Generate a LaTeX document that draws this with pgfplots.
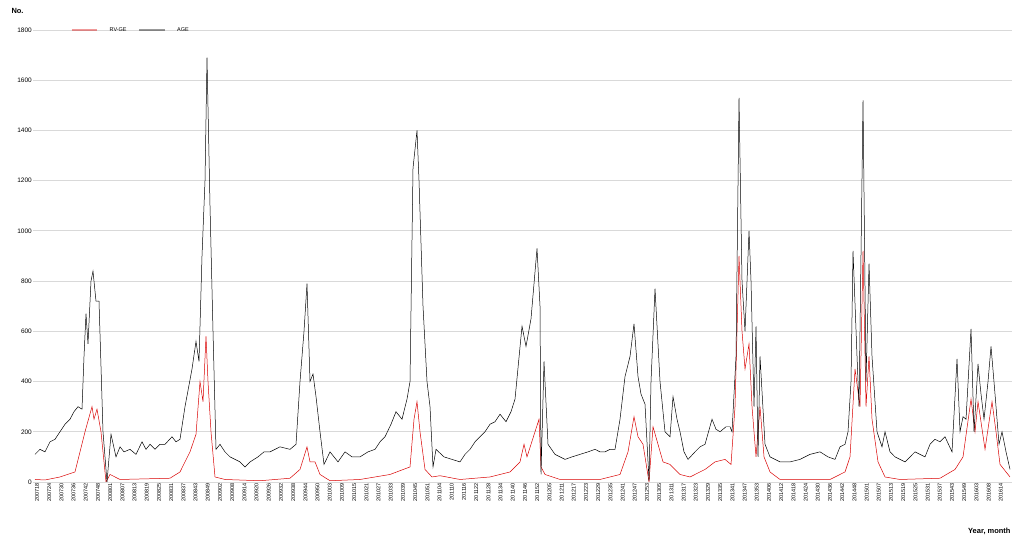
\documentclass[border=0pt]{standalone}
\usepackage{pgfplots}
\pgfplotsset{compat=1.18}
\usepackage{fontspec}
\setmainfont{Liberation Sans}
\begin{document}
\begin{tikzpicture}[x=1bp,y=1bp]
\useasboundingbox (0,0) rectangle (1016,541);
\begin{axis}[at={(33bp,59bp)},anchor=south west,scale only axis,width=979bp,height=452bp,
 xmin=33,xmax=1012,ymin=0,ymax=1800,
 ytick={0,200,...,1800},
 ymajorgrids, grid style={gray!30,line width=0.8pt},
 axis line style={draw=none}, tick style={draw=none},
 xtick={37,49.2,...,1003},
 xticklabels={200718,200724,200730,200736,200742,200748,
 200801,200807,200813,200819,200825,200831,200837,200843,200849,
 200902,200908,200914,200920,200926,200932,200938,200944,200950,
 201003,201009,201015,201021,201027,201033,201039,201045,201051,
 201104,201110,201116,201122,201128,201134,201140,201146,201152,
 201205,201211,201217,201223,201229,201235,201241,201247,201253,
 201305,201311,201317,201323,201329,201335,201341,201347,201353,
 201406,201412,201418,201424,201430,201436,201442,201448,
 201501,201507,201513,201519,201525,201531,201537,201543,201549,
 201603,201608,201614},
 xticklabel style={rotate=90,anchor=east,font=\fontsize{5.5}{6}\selectfont,inner sep=1pt},
 yticklabel style={font=\fontsize{6.5}{7}\selectfont,inner sep=1pt},
 /pgf/number format/assume math mode=true,
 scaled y ticks=false, y tick label style={/pgf/number format/1000 sep={}},
 legend style={at={(0.1,1)},anchor=center,draw=none,fill=none,font=\fontsize{5.5}{6}\selectfont,legend columns=2,column sep=10pt},
 legend image code/.code={\draw[#1,line width=1.2pt,opacity=0.4] (0,0) -- (0.9cm,0);},
]
\addplot[red!85!black,line width=0.5pt] coordinates {
(35,10)(45,8)(60,20)(75,40)(85,200)(92,300)(94,250)(97,290)(101,200)(106,0)(110,30)(120,10)(140,12)(170,15)(180,40)(190,120)(196,190)(200,400)(203,320)(206,580)(208,400)(211,200)(215,20)(225,10)(260,5)(290,15)(300,50)(307,140)(310,80)(315,80)(320,30)(330,5)(360,10)(390,30)(410,60)(414,250)(417,320)(420,200)(425,50)(432,20)(440,25)(460,10)(490,20)(510,40)(520,80)(524,150)(527,100)(535,200)(539,250)(541,60)(545,30)(560,10)(600,10)(620,30)(628,120)(634,260)(638,180)(643,150)(649,0)(653,220)(658,150)(663,80)(670,70)(680,30)(690,20)(705,50)(715,80)(725,90)(731,70)(735,300)(739,900)(742,600)(745,450)(749,550)(752,300)(756,100)(760,300)(764,100)(770,40)(780,10)(830,10)(845,40)(850,100)(855,450)(860,300)(863,920)(866,300)(869,500)(872,250)(878,80)(885,20)(900,10)(940,15)(955,50)(963,100)(971,330)(975,200)(978,320)(985,130)(992,320)(996,200)(1000,70)(1010,20)};
\addlegendentry{RV-GE}
\addplot[black,line width=0.5pt] coordinates {
(35,110)(40,130)(45,120)(50,160)(55,170)(60,200)(65,230)(70,250)(74,280)(78,300)(82,290)(84,500)(86,670)(88,550)(91,800)(93,840)(96,720)(99,720)(103,200)(107,0)(111,190)(116,100)(120,140)(124,120)(130,130)(136,110)(142,160)(146,130)(150,150)(155,130)(160,150)(165,150)(172,180)(176,160)(180,170)(185,300)(192,450)(196,560)(199,480)(202,900)(205,1200)(207,1690)(210,1100)(213,600)(216,130)(220,150)(225,120)(230,100)(235,90)(240,80)(245,60)(250,80)(258,100)(264,120)(270,120)(280,140)(290,130)(296,150)(300,400)(304,600)(307,790)(310,400)(313,430)(316,340)(320,200)(324,70)(330,120)(334,100)(338,80)(345,120)(352,100)(360,100)(368,120)(375,130)(380,160)(385,180)(391,230)(396,280)(402,250)(407,330)(410,400)(413,1250)(417,1400)(419,1200)(423,700)(427,400)(430,300)(433,60)(436,130)(444,100)(452,90)(460,80)(465,110)(470,130)(475,160)(480,180)(485,200)(490,230)(495,240)(500,270)(506,240)(511,280)(515,330)(522,620)(526,540)(531,650)(537,930)(540,700)(541,30)(544,480)(548,150)(555,110)(560,100)(565,90)(572,100)(580,110)(588,120)(595,130)(600,120)(605,120)(610,130)(615,130)(620,250)(625,420)(630,500)(634,630)(638,420)(641,350)(645,310)(649,5)(651,400)(655,770)(660,400)(665,200)(670,180)(673,340)(677,250)(680,200)(684,120)(688,90)(695,120)(700,140)(705,150)(712,250)(716,210)(720,200)(726,220)(730,220)(732,200)(736,500)(739,1530)(742,800)(745,600)(749,1000)(751,800)(754,300)(756,620)(758,100)(760,500)(765,150)(770,100)(775,90)(780,80)(790,80)(800,90)(810,110)(820,120)(828,100)(835,90)(840,140)(845,150)(848,200)(851,400)(853,920)(857,500)(859,300)(863,1520)(866,400)(869,870)(872,500)(877,200)(882,140)(885,200)(890,120)(895,100)(905,80)(910,100)(915,120)(920,110)(925,100)(930,150)(935,170)(940,160)(945,180)(952,120)(957,490)(960,200)(963,260)(966,250)(971,610)(974,200)(978,470)(981,350)(984,250)(988,400)(991,540)(995,350)(999,150)(1002,200)(1006,120)(1010,50)};
\addlegendentry{AGE}
\end{axis}
\node[anchor=west,font=\fontsize{7.5}{8}\selectfont\bfseries] at (8,530) {No.};
\node[anchor=east,font=\fontsize{7.5}{8}\selectfont\bfseries] at (1014,10) {Year, month};
\end{tikzpicture}
\end{document}
